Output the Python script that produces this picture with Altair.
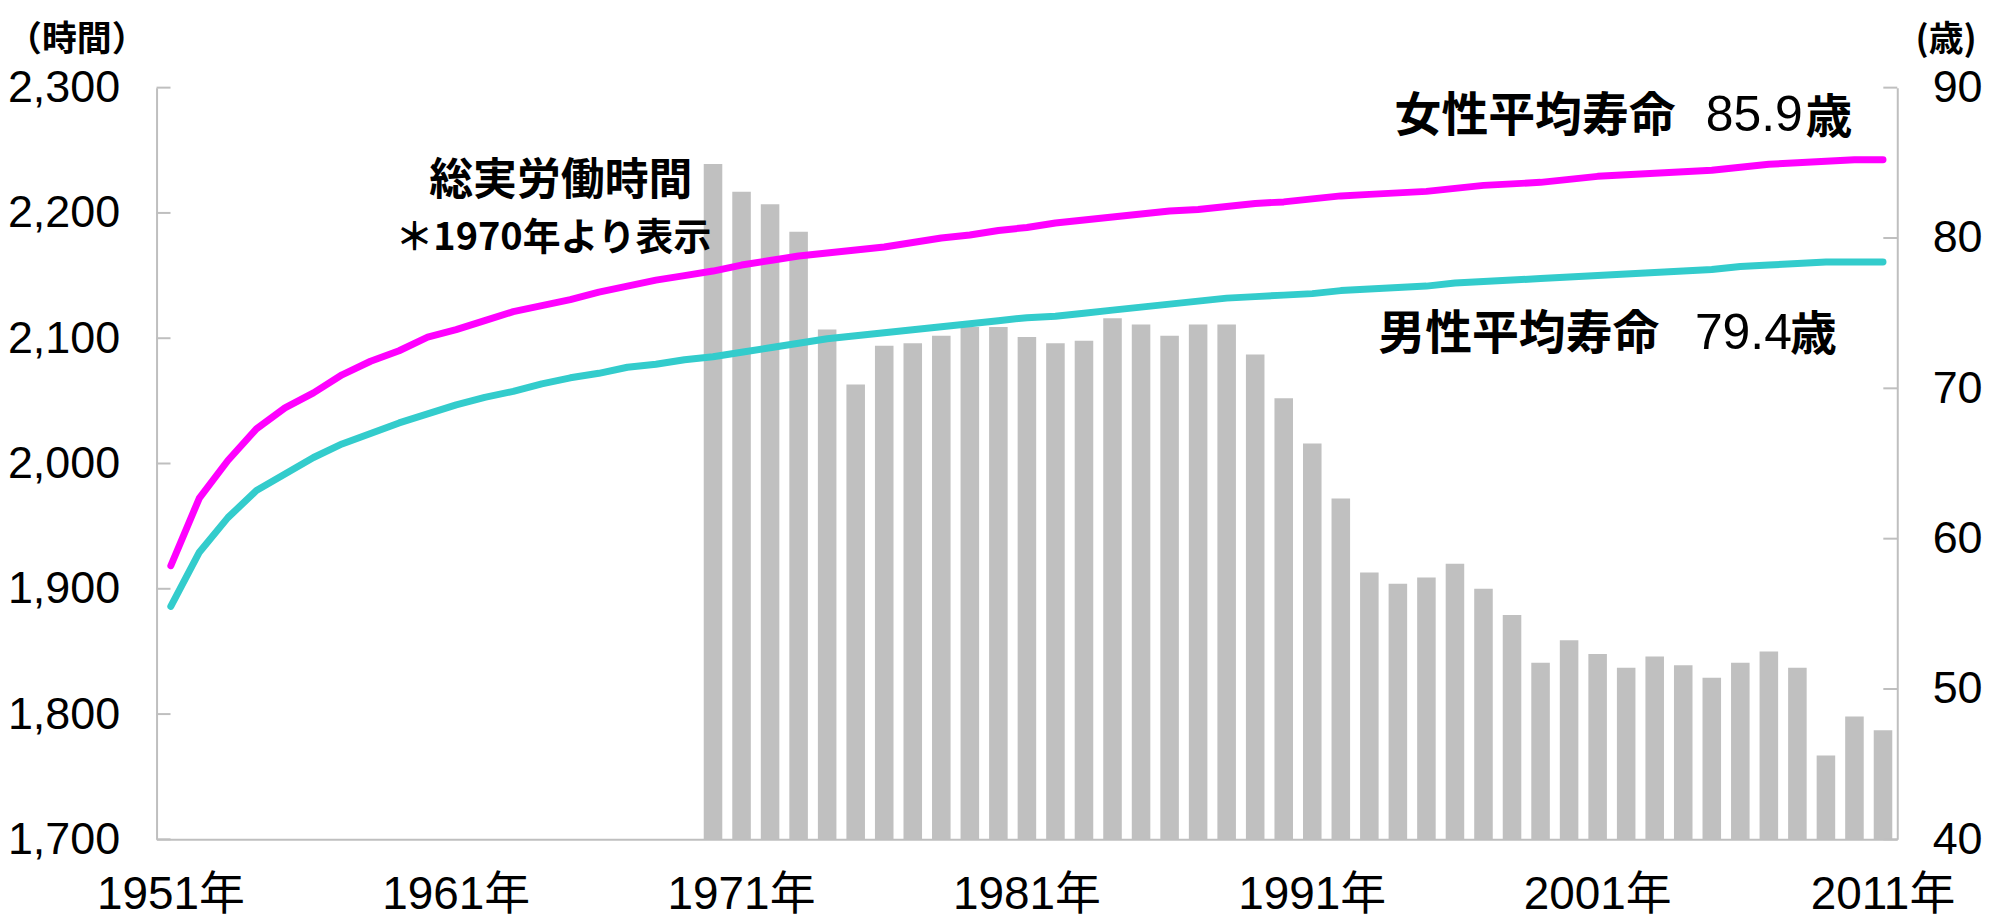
import altair as alt
import pandas as pd

# ---------------- data ----------------
years = list(range(1951, 2012))
work_years = list(range(1970, 2012))
work_hours = [2239, 2217, 2207, 2185, 2107, 2063, 2094, 2096, 2102, 2109,
              2109, 2101, 2096, 2098, 2116, 2111, 2102, 2111, 2111, 2087,
              2052, 2016, 1972, 1913, 1904, 1909, 1920, 1900, 1879, 1841,
              1859, 1848, 1837, 1846, 1839, 1829, 1841, 1850, 1837, 1767,
              1798, 1787]
female_life = [58.2, 62.7, 65.2, 67.3, 68.7, 69.7, 70.9, 71.8, 72.5, 73.4,
               73.9, 74.5, 75.1, 75.5, 75.9, 76.4, 76.8, 77.2, 77.5, 77.8,
               78.2, 78.5, 78.8, 79.0, 79.2, 79.4, 79.7, 80.0, 80.2, 80.5,
               80.7, 81.0, 81.2, 81.4, 81.6, 81.8, 81.9, 82.1, 82.3, 82.4,
               82.6, 82.8, 82.9, 83.0, 83.1, 83.3, 83.5, 83.6, 83.7, 83.9,
               84.1, 84.2, 84.3, 84.4, 84.5, 84.7, 84.9, 85.0, 85.1, 85.2,
               85.2]
male_life = [55.5, 59.1, 61.4, 63.2, 64.3, 65.4, 66.3, 67.0, 67.7, 68.3,
             68.9, 69.4, 69.8, 70.3, 70.7, 71.0, 71.4, 71.6, 71.9, 72.1,
             72.4, 72.7, 73.0, 73.3, 73.5, 73.7, 73.9, 74.1, 74.3, 74.5,
             74.7, 74.8, 75.0, 75.2, 75.4, 75.6, 75.8, 76.0, 76.1, 76.2,
             76.3, 76.5, 76.6, 76.7, 76.8, 77.0, 77.1, 77.2, 77.3, 77.4,
             77.5, 77.6, 77.7, 77.8, 77.9, 78.1, 78.2, 78.3, 78.4, 78.4,
             78.4]
series_names = ["女性平均寿命", "男性平均寿命"]
x_label_years = [1951, 1961, 1971, 1981, 1991, 2001, 2011]
hours_ticks = [1700, 1800, 1900, 2000, 2100, 2200, 2300]
age_ticks = [40, 50, 60, 70, 80, 90]

bar_df = pd.DataFrame({"year": work_years, "hours": work_hours})
line_df = pd.DataFrame({
    "year": years + years,
    "age": female_life + male_life,
    "series": [series_names[0]] * len(years) + [series_names[1]] * len(years),
})
dummy = pd.DataFrame({"a": [0]})

# ---------------- style ----------------
W, H = 1746, 754
PAD_L, PAD_T = 149, 78.5
OX, OY = 8 + PAD_L, 8 + PAD_T   # page position of the plot origin
GRAY = "#BFBFBF"
CJK = "Noto Sans CJK JP"
NUM = "Liberation Sans, Noto Sans CJK JP, sans-serif"

x_enc = alt.X(
    "year:O",
    scale=alt.Scale(domain=years, paddingInner=0.35, paddingOuter=0.175),
    axis=alt.Axis(values=x_label_years, labelExpr="datum.label + '年'", labelAngle=0,
                  title=None, ticks=False, tickSize=0, domainColor=GRAY, domainWidth=2,
                  labelFont=NUM, labelFontSize=46, labelColor="black",
                  labelPadding=69, labelBaseline="alphabetic", grid=False),
)

bars = alt.Chart(bar_df).mark_bar(color="#C0C0C0").encode(
    x=x_enc,
    y=alt.Y("hours:Q",
            scale=alt.Scale(domain=[1700, 2300], zero=False, nice=False),
            axis=alt.Axis(orient="left", values=hours_ticks, format=",.0f", ticks=False, tickSize=0,
                          domainColor=GRAY, domainWidth=2, labelFont=NUM, labelFontSize=45,
                          labelColor="black", labelPadding=37, title=None, grid=False)),
    y2=alt.datum(1700),
)

lines = alt.Chart(line_df).mark_line(strokeWidth=7, strokeCap="round", strokeJoin="round").encode(
    x=x_enc,
    y=alt.Y("age:Q",
            scale=alt.Scale(domain=[40, 90], zero=False, nice=False),
            axis=alt.Axis(orient="right", values=age_ticks, format=".0f", ticks=False, tickSize=0,
                          domainColor=GRAY, domainWidth=2, labelFont=NUM, labelFontSize=45,
                          labelColor="black", labelPadding=35, title=None, grid=False)),
    color=alt.Color("series:N", scale=alt.Scale(domain=series_names, range=["#FF00FF", "#33CCCC"]),
                    legend=None),
    order=alt.Order("year:Q"),
)

left_ticks = alt.Chart(pd.DataFrame({"v": hours_ticks})).mark_rule(color=GRAY, strokeWidth=2).encode(
    x=alt.value(0), x2=alt.value(14),
    y=alt.Y("v:Q", scale=alt.Scale(domain=[1700, 2300], zero=False, nice=False), axis=None),
)
right_ticks = alt.Chart(pd.DataFrame({"v": age_ticks})).mark_rule(color=GRAY, strokeWidth=2).encode(
    x=alt.value(W - 14), x2=alt.value(W),
    y=alt.Y("v:Q", scale=alt.Scale(domain=[40, 90], zero=False, nice=False), axis=None),
)


def label(text, px, py, size, font=CJK, weight="bold", align="center"):
    """Text placed at page coordinates (px, py = alphabetic baseline)."""
    return alt.Chart(dummy).mark_text(
        text=text, font=font, fontSize=size, fontWeight=weight, align=align,
        baseline="alphabetic", color="black",
    ).encode(x=alt.value(px - OX), y=alt.value(py - OY))


texts = [
    label("（時間）", 77, 49.5, 35),
    label("(歳)", 1952, 49.5, 35),
    label("総実労働時間", 562.5, 193.8, 44),
    label("＊1970年より表示", 555, 249, 38),
    label("女性平均寿命", 1539.7, 130, 47),
    label("85.9", 1711, 130, 50, font=NUM, weight="normal", align="left"),
    label("歳", 1834.5, 132, 47),
    label("男性平均寿命", 1523.4, 348.5, 47),
    label("79.4", 1700, 348.3, 50, font=NUM, weight="normal", align="left"),
    label("歳", 1819, 350, 47),
]

chart = alt.layer(bars, lines, left_ticks, right_ticks, *texts).resolve_scale(
    y="independent"
).properties(
    width=W, height=H,
    padding={"left": PAD_L, "top": PAD_T, "right": 88, "bottom": 80},
    autosize=alt.AutoSizeParams(type="none"),
    background="white",
).configure_view(stroke=None)

chart.save("out.html", embed_options={"renderer": "svg", "actions": False})
